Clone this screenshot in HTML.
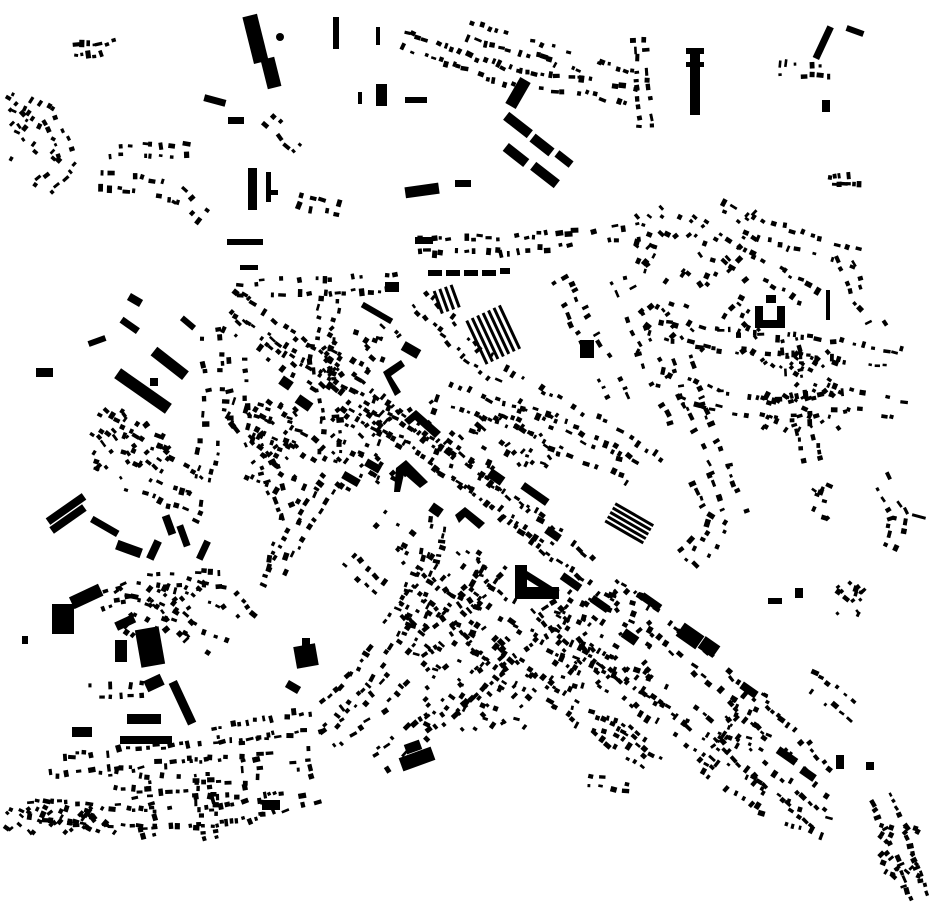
<!DOCTYPE html>
<html><head><meta charset="utf-8">
<style>html,body{margin:0;padding:0;background:#fff;width:930px;height:924px;overflow:hidden}svg{display:block}</style>
</head><body>
<svg id="m" xmlns="http://www.w3.org/2000/svg" width="930" height="924" viewBox="0 0 930 924">
<g fill="#000">
<rect x="248" y="15" width="15" height="48" transform="rotate(-14 255 39)"/>
<rect x="264" y="58" width="14" height="30" transform="rotate(-14 271 73)"/>
<circle cx="280" cy="37" r="4"/>
<rect x="333" y="17" width="6" height="32"/>
<rect x="376" y="27" width="4" height="18"/>
<rect x="376" y="84" width="11" height="22"/>
<rect x="358" y="92" width="4" height="12"/>
<rect x="405" y="97" width="22" height="6"/>
<rect x="204" y="97" width="22" height="7" transform="rotate(15 215 100)"/>
<rect x="228" y="117" width="16" height="7"/>
<rect x="248" y="168" width="9" height="42"/>
<rect x="266" y="172" width="5" height="30"/>
<rect x="270" y="190" width="8" height="5"/>
<rect x="512" y="78" width="12" height="30" transform="rotate(30 518 93)"/>
<rect x="503" y="120" width="30" height="10" transform="rotate(38 518 125)"/>
<rect x="530" y="140" width="24" height="10" transform="rotate(38 542 145)"/>
<rect x="555" y="155" width="18" height="8" transform="rotate(38 564 159)"/>
<rect x="503" y="150" width="26" height="10" transform="rotate(38 516 155)"/>
<rect x="530" y="170" width="30" height="10" transform="rotate(38 545 175)"/>
<rect x="690" y="50" width="10" height="65"/>
<rect x="686" y="48" width="18" height="6"/>
<rect x="686" y="62" width="18" height="5"/>
<rect x="820" y="25" width="7" height="35" transform="rotate(25 823 42)"/>
<rect x="846" y="28" width="18" height="6" transform="rotate(20 855 31)"/>
<rect x="822" y="100" width="8" height="12"/>
<rect x="405" y="185" width="34" height="11" transform="rotate(-8 422 190)"/>
<rect x="455" y="180" width="16" height="7"/>
<rect x="415" y="237" width="18" height="7"/>
<rect x="227" y="239" width="36" height="6"/>
<rect x="240" y="265" width="18" height="5"/>
<rect x="428" y="270" width="14" height="6"/><rect x="446" y="270" width="14" height="6"/><rect x="464" y="270" width="14" height="6"/><rect x="482" y="270" width="14" height="6"/><rect x="500" y="268" width="10" height="6"/>
<g transform="rotate(-20 450 298)"><rect x="436" y="286" width="3" height="24"/><rect x="442" y="286" width="3" height="24"/><rect x="448" y="286" width="3" height="24"/><rect x="454" y="286" width="3" height="24"/></g>
<g transform="rotate(-25 495 335)"><rect x="474" y="310" width="3" height="48"/><rect x="480" y="310" width="3" height="48"/><rect x="486" y="310" width="3" height="48"/><rect x="492" y="310" width="3" height="48"/><rect x="498" y="310" width="3" height="48"/><rect x="504" y="310" width="3" height="48"/><rect x="510" y="310" width="3" height="48"/></g>
<rect x="36" y="368" width="17" height="9"/>
<rect x="112" y="385" width="62" height="12" transform="rotate(35 143 391)"/>
<rect x="150" y="358" width="40" height="11" transform="rotate(38 170 363)"/>
<rect x="128" y="296" width="14" height="8" transform="rotate(30 135 300)"/>
<rect x="120" y="322" width="20" height="7" transform="rotate(35 130 325)"/>
<rect x="88" y="338" width="18" height="6" transform="rotate(-20 97 341)"/>
<rect x="180" y="320" width="16" height="6" transform="rotate(40 188 323)"/>
<rect x="150" y="378" width="8" height="8"/>
<rect x="44" y="505" width="44" height="8" transform="rotate(-35 66 509)"/>
<rect x="48" y="515" width="40" height="8" transform="rotate(-35 68 519)"/>
<rect x="90" y="523" width="30" height="7" transform="rotate(30 105 526)"/>
<rect x="116" y="544" width="26" height="10" transform="rotate(20 129 549)"/>
<rect x="150" y="540" width="8" height="20" transform="rotate(25 154 550)"/>
<rect x="165" y="515" width="8" height="20" transform="rotate(-20 169 525)"/>
<rect x="180" y="525" width="7" height="22" transform="rotate(-20 183 536)"/>
<rect x="200" y="540" width="7" height="20" transform="rotate(25 203 550)"/>
<rect x="52" y="604" width="22" height="30"/>
<rect x="70" y="590" width="32" height="13" transform="rotate(-25 86 596)"/>
<rect x="138" y="628" width="24" height="38" transform="rotate(-10 150 647)"/>
<rect x="115" y="640" width="12" height="22"/>
<rect x="115" y="618" width="20" height="9" transform="rotate(-25 125 622)"/>
<rect x="145" y="677" width="18" height="12" transform="rotate(-25 154 683)"/>
<rect x="178" y="680" width="9" height="46" transform="rotate(-25 182 703)"/>
<rect x="127" y="714" width="34" height="10"/>
<rect x="120" y="736" width="52" height="8"/>
<rect x="72" y="727" width="20" height="10"/>
<rect x="22" y="636" width="6" height="8"/>
<rect x="295" y="645" width="22" height="22" transform="rotate(-10 306 656)"/>
<rect x="302" y="638" width="8" height="10"/>
<rect x="286" y="683" width="14" height="8" transform="rotate(30 293 687)"/>
<rect x="400" y="752" width="34" height="14" transform="rotate(-20 417 759)"/>
<rect x="405" y="742" width="16" height="10" transform="rotate(-20 413 747)"/>
<rect x="262" y="800" width="18" height="10"/>
<path d="M515 565 h12 v22 h32 v12 h-44 z"/>
<path d="M519 566 l35 22 l-4 6 l-35-22z"/>
<path d="M383 372 l18 -12 l4 6 l-14 10 l10 16 l-6 4 z"/>
<path d="M404 420 l12 -10 l25 22 l-6 6 l-20 -18 l-6 5z"/>
<path d="M396 468 l10 -8 l22 22 l-8 6 l-16 -14 l-4 18 h-6z"/>
<path d="M455 515 l10 -8 l20 16 l-6 6 l-14 -12 l-6 6z"/>
<rect x="280" y="378" width="12" height="10" transform="rotate(35 286 383)"/>
<rect x="296" y="398" width="16" height="10" transform="rotate(35 304 403)"/>
<rect x="402" y="345" width="18" height="10" transform="rotate(30 411 350)"/>
<rect x="580" y="340" width="14" height="18"/>
<g transform="rotate(30 630 522)"><rect x="608" y="512" width="44" height="3"/><rect x="608" y="517" width="44" height="3"/><rect x="608" y="522" width="44" height="3"/><rect x="608" y="527" width="44" height="3"/><rect x="608" y="532" width="44" height="3"/></g>
<rect x="678" y="628" width="24" height="16" transform="rotate(35 690 636)"/>
<rect x="700" y="640" width="18" height="14" transform="rotate(35 709 647)"/>
<rect x="622" y="632" width="16" height="10" transform="rotate(35 630 637)"/>
<path d="M755 306 h8 v14 h14 v-14 h8 v22 h-30z"/>
<rect x="766" y="295" width="10" height="8"/>
<rect x="826" y="290" width="4" height="30"/>
<rect x="768" y="598" width="14" height="6"/>
<rect x="795" y="588" width="8" height="10"/>
<rect x="385" y="282" width="14" height="10"/>
<rect x="360" y="310" width="34" height="6" transform="rotate(30 377 313)"/>
<rect x="342" y="475" width="18" height="8" transform="rotate(30 351 479)"/>
<rect x="365" y="462" width="16" height="8" transform="rotate(30 373 466)"/>
<rect x="430" y="505" width="12" height="10" transform="rotate(35 436 510)"/>
<rect x="488" y="472" width="16" height="10" transform="rotate(35 496 477)"/>
<rect x="520" y="490" width="30" height="8" transform="rotate(35 535 494)"/>
<rect x="545" y="530" width="16" height="8" transform="rotate(35 553 534)"/>
<rect x="560" y="578" width="22" height="8" transform="rotate(35 571 582)"/>
<rect x="590" y="600" width="20" height="8" transform="rotate(35 600 604)"/>
<rect x="640" y="598" width="22" height="8" transform="rotate(35 651 602)"/>
<rect x="740" y="686" width="18" height="8" transform="rotate(35 749 690)"/>
<rect x="776" y="752" width="22" height="8" transform="rotate(35 787 756)"/>
<rect x="800" y="770" width="16" height="8" transform="rotate(35 808 774)"/>
<rect x="836" y="755" width="8" height="14"/>
<rect x="866" y="762" width="8" height="8"/>
<rect x="912" y="515" width="14" height="3" transform="rotate(15 919 516)"/>
</g>
<g id="gen" fill="#000"></g>
</svg>
<script>
(function(){
var s=12345;function r(){s=(s*1103515245+12345)%2147483648;return s/2147483648;}
var g=document.getElementById('gen'),out=[];
function rect(x,y,w,h,a){out.push('<rect x="'+(x-w/2).toFixed(1)+'" y="'+(y-h/2).toFixed(1)+'" width="'+w.toFixed(1)+'" height="'+h.toFixed(1)+'" transform="rotate('+a.toFixed(1)+' '+x.toFixed(1)+' '+y.toFixed(1)+')"/>');}
var streets=[
[[[230,300],[420,440],[600,580],[700,660],[840,790]],7,12],
[[[230,320],[350,400],[470,480],[560,540]],8,10],
[[[240,290],[330,285],[400,282]],8,8],
[[[210,330],[215,400],[205,470],[190,520]],9,9],
[[[235,360],[240,420],[270,470],[290,520],[270,590]],9,9],
[[[230,410],[300,440],[340,470]],9,9],
[[[250,470],[320,500]],10,9],
[[[330,300],[320,360],[330,420],[330,480],[300,530],[270,580]],10,9],
[[[100,420],[160,460],[200,490]],8,10],
[[[110,440],[130,480],[180,500]],9,9],
[[[170,580],[230,600],[250,620]],9,9],
[[[160,600],[200,640],[240,660]],10,10],
[[[215,735],[320,720],[360,680],[400,620],[430,560],[440,520]],7,10],
[[[330,740],[380,700],[420,650],[470,600],[500,560]],8,10],
[[[380,760],[430,720],[480,680],[520,640],[560,610]],8,11],
[[[420,580],[460,620],[500,660],[560,700],[620,740],[660,770]],8,10],
[[[470,580],[520,620],[580,660],[640,700],[720,760]],8,10],
[[[580,650],[640,680],[700,720],[760,770],[820,820]],8,10],
[[[570,715],[620,730],[650,750]],8,8],
[[[700,760],[760,800],[830,830]],9,10],
[[[50,765],[120,760],[200,750],[280,745]],8,10],
[[[30,810],[100,815],[160,820],[230,815],[290,800]],6,10],
[[[140,770],[150,840]],8,8],[[[200,760],[210,840]],8,8],[[[250,760],[255,820]],9,8],[[[300,750],[310,810]],9,8],
[[[100,780],[250,790]],8,8],
[[[405,40],[460,60],[520,80],[580,85],[640,100]],7,8],
[[[470,30],[540,50],[600,70],[640,80]],8,8],
[[[640,40],[645,130]],9,6],
[[[420,245],[500,245],[560,240],[640,232]],8,8],
[[[420,300],[480,360],[540,400],[620,440],[660,470]],9,10],
[[[440,390],[520,420],[580,450],[650,480]],9,10],
[[[560,280],[580,320],[600,360],[620,400]],9,9],
[[[620,280],[640,330],[660,380],[680,420]],10,9],
[[[660,330],[720,340],[780,345],[840,350],[900,360]],8,10],
[[[700,230],[740,260],[780,280],[820,300]],9,10],
[[[720,210],[760,230],[800,240],[860,260]],10,10],
[[[680,360],[700,420],[720,470],[740,520]],9,10],
[[[790,340],[800,400],[810,460]],8,9],
[[[660,380],[720,400],[780,410],[850,400],[910,410]],9,10],
[[[840,250],[860,300],[880,330]],9,8],
[[[700,480],[720,520],[700,560],[680,540]],10,9],
[[[880,480],[900,520],[890,550]],9,8],
[[[880,800],[900,840],[920,900]],7,10],
[[[10,100],[50,120],[70,160],[40,190]],9,9],
[[[60,50],[100,50],[120,45]],7,6],
[[[90,180],[140,185],[180,195],[210,220]],9,8],
[[[110,150],[150,150],[190,150]],12,6],
[[[830,180],[860,180]],6,4],[[[780,70],[830,70]],8,6],
[[[270,120],[300,150]],10,6],
[[[300,200],[340,210]],10,6],
[[[150,580],[230,580]],8,8],
[[[90,690],[150,690]],10,6],
[[[100,600],[130,590],[160,600]],8,8],
[[[810,680],[840,700],[860,720]],8,10],
[[[840,580],[860,600]],8,8],
[[[590,780],[640,790]],12,5],
[[[380,520],[410,540]],8,8],
[[[350,560],[380,590]],10,8]
];
streets.forEach(function(st){
 var p=st[0],step=st[1],off=st[2];
 for(var i=0;i<p.length-1;i++){
  var x0=p[i][0],y0=p[i][1],x1=p[i+1][0],y1=p[i+1][1];
  var dx=x1-x0,dy=y1-y0,L=Math.sqrt(dx*dx+dy*dy),ux=dx/L,uy=dy/L,a=Math.atan2(dy,dx)*180/Math.PI;
  for(var t=0;t<L;t+=step*(0.7+r()*0.6)){
   for(var sd=-1;sd<=1;sd+=2){
    if(r()<0.3)continue;
    var o=off*(0.6+r()*0.6)*sd;
    var x=x0+ux*t-uy*o,y=y0+uy*t+ux*o;
    var w=3+r()*5,h=2.5+r()*3;
    rect(x,y,w,h,a+(r()<0.4?90:0)+(r()-0.5)*20);
   }
  }
 }
});
var cl=[[590,640,120,100,90],[440,600,90,110,55],[480,690,110,80,50],[700,280,130,150,80],[800,390,80,80,50],[130,440,80,60,35],[270,440,60,80,40],[160,610,90,60,35],[60,820,110,25,45],[30,130,50,70,20],[420,440,120,80,45],[350,450,60,80,30],[520,440,80,60,35],[740,720,60,60,35],[900,850,40,60,25],[850,600,30,30,10],[820,500,20,40,10],[360,350,80,50,35]];
cl.forEach(function(c){for(var k=0;k<c[4];k++){rect(c[0]+(r()-0.5)*c[2],c[1]+(r()-0.5)*c[3],3+r()*4,2.5+r()*3,35+(r()<0.5?90:0)+(r()-0.5)*40);}});
g.innerHTML=out.join('');
})();
</script>
</body></html>
